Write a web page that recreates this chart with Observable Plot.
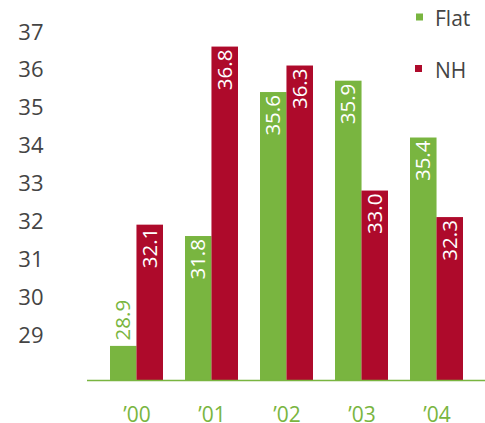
<!DOCTYPE html>
<html><head><meta charset="utf-8">
<script src="https://cdn.jsdelivr.net/npm/d3@7"></script>
<script src="https://cdn.jsdelivr.net/npm/@observablehq/plot@0.6"></script>
<style>
html,body{margin:0;padding:0;background:#fff;}
#chart{position:relative;width:485px;height:423px;font-family:"Open Sans",sans-serif;}
#legend{position:absolute;left:0;top:0;pointer-events:none;}
</style></head><body><div id="chart"></div>
<script>
const years = ["\u201900","\u201901","\u201902","\u201903","\u201904"];
const series = ["Flat","NH"];
const flatValues = [28.9, 31.8, 35.6, 35.9, 34.4];   // bar heights as drawn
const flatLabels = ["28.9","31.8","35.6","35.9","35.4"]; // printed labels
const nhValues = [32.1, 36.8, 36.3, 33.0, 32.3];
const nhLabels = ["32.1","36.8","36.3","33.0","32.3"];
const yTicks = [29,30,31,32,33,34,35,36,37];
const yMin = 28, yMax = 37;
const colors = ["#79b540","#ae0a2b"];

const rows = years.flatMap((year, i) => [
  {year, series: "Flat", value: flatValues[i], label: flatLabels[i]},
  {year, series: "NH", value: nhValues[i], label: nhLabels[i]}
]);
const flatRows = rows.filter(d => d.series === "Flat");
const nhRows = rows.filter(d => d.series === "NH");
const fits = d => d.value - yMin >= 1.5;

const half = 26.46;
const plot = Plot.plot({
  width: 485, height: 423,
  marginLeft: 87, marginRight: 0, marginTop: 39, marginBottom: 43,
  style: {fontFamily: "Open Sans", background: "white"},
  x: {domain: years, range: [109, 464.3], paddingInner: 0.3, paddingOuter: 0},
  y: {domain: [yMin, yMax]},
  color: {domain: series, range: colors},
  marks: [
    Plot.barY(flatRows, {x: "year", y1: yMin, y2: "value", fill: "series", insetRight: half}),
    Plot.barY(nhRows, {x: "year", y1: yMin, y2: "value", fill: "series", insetLeft: half}),
    Plot.ruleY([yMin], {stroke: colors[0], strokeWidth: 1.5}),
    Plot.text(flatRows.filter(fits), {x: "year", y: "value", text: "label", rotate: -90, textAnchor: "end", dx: -half/2, dy: 2.5, fill: "white", fontSize: 20.5}),
    Plot.text(nhRows.filter(fits), {x: "year", y: "value", text: "label", rotate: -90, textAnchor: "end", dx: half/2, dy: 2.5, fill: "white", fontSize: 20.5}),
    Plot.text(flatRows.filter(d => !fits(d)), {x: "year", y: "value", text: "label", rotate: -90, textAnchor: "start", dx: -half/2, dy: -6, fill: colors[0], fontSize: 20.5}),
    Plot.text(nhRows.filter(d => !fits(d)), {x: "year", y: "value", text: "label", rotate: -90, textAnchor: "start", dx: half/2, dy: -6, fill: colors[1], fontSize: 20.5}),
    Plot.axisY({ticks: yTicks, tickSize: 0, tickPadding: 44, lineAnchor: "bottom", color: "#444", fontSize: 22, label: null}),
    Plot.axisX({tickSize: 0, tickPadding: 41, lineAnchor: "bottom", color: colors[0], fontSize: 21, label: null})
  ]
});
const chart = document.getElementById("chart");
chart.appendChild(plot);

// legend
const leg = d3.select(chart).append("svg").attr("id","legend").attr("width",485).attr("height",90);
const legY = [13.5, 65];
series.forEach((s, i) => {
  leg.append("rect").attr("x", 416 - i).attr("y", legY[i]).attr("width", 7).attr("height", 7).attr("fill", colors[i]);
  leg.append("text").attr("x", 435).attr("y", legY[i] + 12.5).attr("fill", "#444")
    .attr("font-family", "Open Sans").attr("font-size", 21).text(s);
});
</script>
</body></html>
